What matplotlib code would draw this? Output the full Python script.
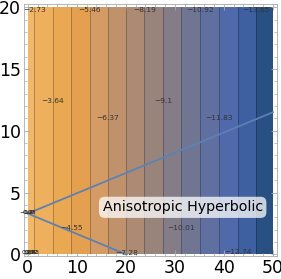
import numpy as np
import matplotlib
matplotlib.use("Agg")
import matplotlib.pyplot as plt
from matplotlib.colors import ListedColormap, BoundaryNorm
from matplotlib.ticker import MultipleLocator

# --- data ---
contour_levels = [-2.73, -3.64, -4.55, -5.46, -6.37, -7.28, -8.19,
                  -9.1, -10.01, -10.92, -11.83, -12.74, -13.65]
contour_x = [1.36, 5.1, 8.85, 12.6, 16.3, 20.1, 23.8,
             27.6, 31.3, 35.2, 39.0, 42.8, 46.6]
label_y = [19.8, 12.4, 2.1, 19.8, 11.0, 0.1, 19.8,
           12.4, 2.1, 19.8, 11.0, 0.2, 19.8]

band_colors = ["#f0b868", "#eeb05c", "#eaa852", "#e4a04e", "#d49b64",
               "#c0926c", "#ac8a73", "#98847a", "#847d87", "#707691",
               "#5f70a0", "#5069aa", "#3e5fa0", "#285082"]

upper_x = [0, 50]
upper_y = [3.3, 11.5]
lower_x = [0, 20]
lower_y = [3.3, 0]

label_text = "Anisotropic Hyperbolic"

# field that only varies along x, pinned at the contour positions
xs = np.linspace(0, 50, 501)
ys = np.linspace(0, 20, 3)
X, Y = np.meshgrid(xs, ys)
slope = (contour_levels[-1] - contour_levels[0]) / (contour_x[-1] - contour_x[0])
Z = np.interp(X, contour_x, contour_levels, left=np.nan, right=np.nan)
Z = np.where(X < contour_x[0], contour_levels[0] + slope * (X - contour_x[0]), Z)
Z = np.where(X > contour_x[-1], contour_levels[-1] + slope * (X - contour_x[-1]), Z)

lev_sorted = sorted(contour_levels)
bounds = [-20] + lev_sorted + [0]
cmap = ListedColormap(band_colors[::-1])
norm = BoundaryNorm(bounds, cmap.N)

fig = plt.figure(figsize=(2.81, 2.79), dpi=100)
ax = fig.add_axes([0.085, 0.082, 0.9, 0.903])

ax.contourf(X, Y, Z, levels=bounds, cmap=cmap, norm=norm)
ax.contour(X, Y, Z, levels=lev_sorted, colors="black", linewidths=0.7, alpha=0.25,
           linestyles="solid")

for lv, cx, ly in zip(contour_levels, contour_x, label_y):
    ax.text(cx, ly, f"{lv:g}".replace("-", "\u2212"), fontsize=5.4, color="#333333",
            ha="center", va="center")

# clutter of labels at the degenerate points
for t, dx in [("0.63", 0.3), ("1.2", 0.1), ("\u22120.9", -0.1)]:
    ax.text(dx, 3.35, t, fontsize=4.5, color="#222222", ha="center", va="center")
for t, dx in [("0.91", 0.2), ("1.82", 0.6), ("2.73", 1.0), ("3.64", 0.4)]:
    ax.text(dx, 0.15, t, fontsize=4.5, color="#222222", ha="center", va="center")

ax.plot(upper_x, upper_y, color="#5e81b5", lw=1.3)
ax.plot(lower_x, lower_y, color="#5e81b5", lw=1.3)

ax.text(31.6, 3.8, label_text, fontsize=10.3, color="black", ha="center", va="center",
        bbox=dict(boxstyle="round,pad=0.25,rounding_size=0.4", fc="white", ec="none", alpha=0.75))

ax.set_xlim(-0.8, 50.8)
ax.set_ylim(-0.15, 20.25)
ax.set_xticks([0, 10, 20, 30, 40, 50])
ax.set_yticks([0, 5, 10, 15, 20])
ax.xaxis.set_minor_locator(MultipleLocator(2))
ax.yaxis.set_minor_locator(MultipleLocator(1))
ax.tick_params(which="both", direction="in", top=True, right=True, color="#aaaaaa",
               labelsize=12.5, pad=2)
ax.tick_params(which="major", length=4, width=0.6)
ax.tick_params(which="minor", length=2, width=0.5)
for s in ax.spines.values():
    s.set_color("#aaaaaa")
    s.set_linewidth(0.6)

fig.savefig("out.png", dpi=100)
